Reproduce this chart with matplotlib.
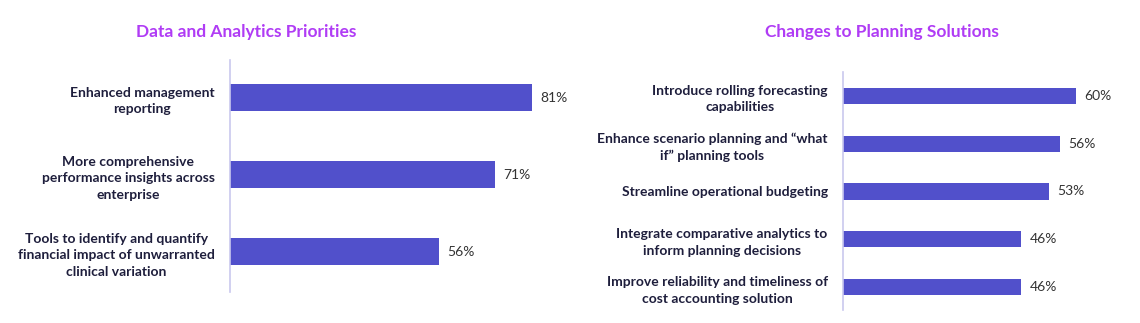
import matplotlib

matplotlib.use("Agg")
import matplotlib.pyplot as plt  # noqa: E402

# left panel
data_labels = [
    "Enhanced management\nreporting",
    "More comprehensive\nperformance insights across\nenterprise",
    "Tools to identify and quantify\nfinancial impact of unwarranted\nclinical variation",
]
data_values = [81, 71, 56]

# right panel
plan_labels = [
    "Introduce rolling forecasting\ncapabilities",
    "Enhance scenario planning and \u201cwhat\nif\u201d planning tools",
    "Streamline operational budgeting",
    "Integrate comparative analytics to\ninform planning decisions",
    "Improve reliability and timeliness of\ncost accounting solution",
]
plan_values = [60, 56, 53, 46, 46]

BAR = "#5150CB"
TITLE = "#B03CF5"
LABEL = "#1E1E3C"
VALUE = "#333333"
AXLINE = "#C9C8EE"

plt.rcParams["font.family"] = ["Lato", "DejaVu Sans"]

W, H = 1140, 323
fig = plt.figure(figsize=(W / 100, H / 100), dpi=100)


def px_axes(left, top, width, height):
    return fig.add_axes([left / W, 1 - (top + height) / H, width / W, height / H])


def draw_panel(ax, labels, values, bar_h, ylim, title, title_x):
    ys = range(len(values))
    ax.barh(ys, values, height=bar_h, color=BAR)
    ax.set_xlim(0, 100)
    ax.set_ylim(*ylim)
    for y, v in zip(ys, values):
        ax.annotate(f"{v}%", (v, y), xytext=(6, 0), textcoords="offset points",
                    va="center", ha="left", fontsize=10, color=VALUE)
    ax.set_yticks(list(ys))
    ax.set_yticklabels(labels, fontsize=10, fontweight="bold", color=LABEL,
                       linespacing=1.45)
    ax.tick_params(axis="y", length=0, pad=11)
    ax.set_xticks([])
    for s in ("top", "right", "bottom"):
        ax.spines[s].set_visible(False)
    ax.spines["left"].set_color(AXLINE)
    ax.spines["left"].set_linewidth(1.2)
    for t in ax.get_yticklabels():
        t.set_multialignment("center")
    fig.text(title_x / W, 1 - 32 / H, title, ha="center", va="center",
             fontsize=12.5, fontweight="bold", color=TITLE)


ax1 = px_axes(230, 60, 373, 232)
draw_panel(ax1, data_labels, data_values, 0.35, (2.52, -0.49),
           "Data and Analytics Priorities", 246)

ax2 = px_axes(843, 72, 388, 238)
draw_panel(ax2, plan_labels, plan_values, 0.34, (4.48, -0.5),
           "Changes to Planning Solutions", 882)

fig.savefig("out.png", dpi=100)
